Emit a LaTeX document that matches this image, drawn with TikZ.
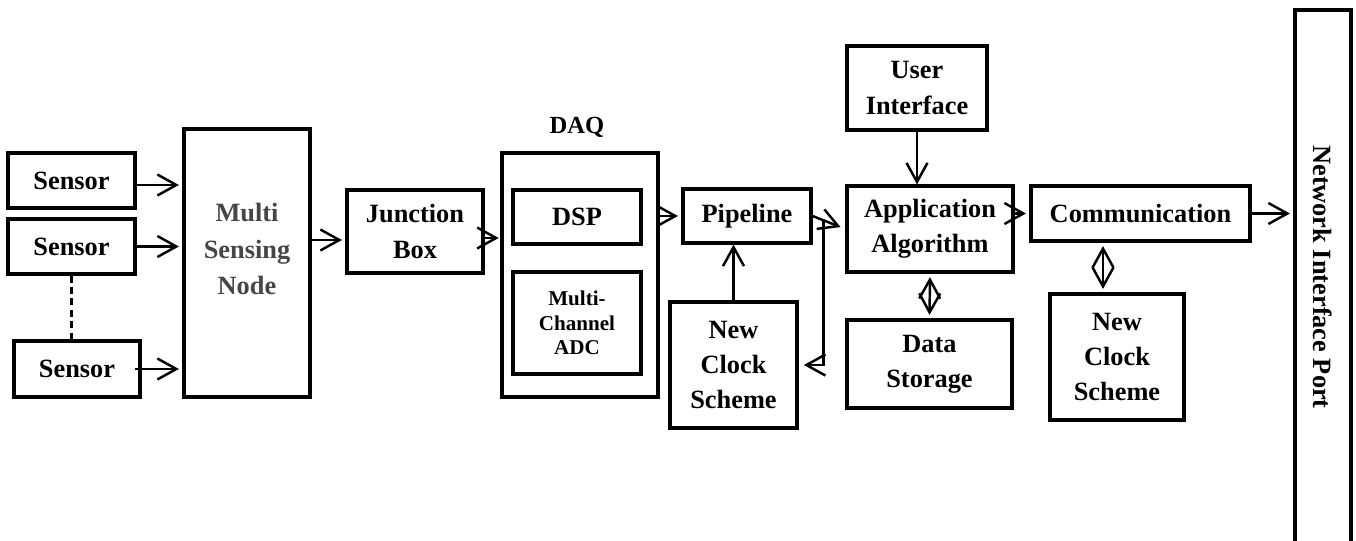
\documentclass[tikz,border=0pt]{standalone}
\usepackage{fontspec}
\setmainfont{Liberation Serif}
\usetikzlibrary{arrows.meta,calc,positioning}
\definecolor{nodegray}{RGB}{70,70,70}

\begin{document}
\begin{tikzpicture}[x=0.02cm, y=-0.02cm,
  blk/.style={draw, line width=1.8pt, align=center, inner sep=0pt,
    font=\fontsize{15}{20}\selectfont\bfseries},
  arr/.style={-{Straight Barb[length=3.8mm, width=4.2mm]}, line width=1.4pt},
  darr/.style={{Straight Barb[length=3.8mm, width=4.2mm]}-{Straight Barb[length=3.8mm, width=4.2mm]}, line width=1.4pt}]
  \useasboundingbox (0,0) rectangle (1356,541);

  % Sensors
  \node[blk, minimum width=2.54cm, minimum height=1.1cm] (s1) at (71.5,180.5) {Sensor};
  \node[blk, minimum width=2.54cm, minimum height=1.1cm] (s2) at (71.5,246.5) {Sensor};
  \node[blk, minimum width=2.52cm, minimum height=1.12cm] (s3) at (77,369) {Sensor};
  \draw[dash pattern=on 4pt off 2.5pt, line width=1.2pt] (s2.south) -- (s2.south |- s3.north);

  % Multi Sensing Node
  \node[blk, minimum width=2.52cm, minimum height=5.36cm] (msn) at (247,263) {};
  \node[font=\fontsize{15}{21}\selectfont\bfseries, text=nodegray, align=center] (msnlab) at (247,249) {Multi\\Sensing\\Node};
  \draw[arr, shorten >=2pt] (s1.east |- 0,185) -- (msn.west |- 0,185);
  \draw[arr, shorten >=2pt] (s2.east) -- (s2.east -| msn.west);
  \draw[arr, shorten >=2pt] ([xshift=-0.14cm]s3.east) -- (s3.east -| msn.west);

  % Junction Box
  \node[blk, minimum width=2.72cm, minimum height=1.66cm] (jb) at (415,231.5) {Junction\\Box};
  \draw[arr, shorten >=2pt] (msn.east |- 0,240) -- (jb.west |- 0,240);

  % DAQ
  \node[blk, minimum width=3.12cm, minimum height=4.88cm] (daq) at (580,275) {};
  \node[font=\fontsize{14}{16}\selectfont\bfseries] (daqlab) at (577,127) {DAQ};
  \node[blk, minimum width=2.56cm, minimum height=1.08cm] (dsp) at (577,217) {DSP};
  \node[blk, minimum width=2.56cm, minimum height=2.04cm, font=\fontsize{12}{14}\selectfont\bfseries] (adc) at (577,323) {Multi-\\Channel\\ADC};
  \draw[arr, shorten >=1pt] (jb.east |- 0,238) -- (daq.west |- 0,238);

  % Pipeline and clock
  \node[blk, minimum width=2.56cm, minimum height=1.08cm] (pipe) at (747,216) {Pipeline};
  \node[blk, minimum width=2.54cm, minimum height=2.52cm] (clk1) at (733.5,365) {New\\Clock\\Scheme};
  \draw[arr, shorten >=2pt] (daq.east |- pipe.west) -- (pipe.west);
  \draw[arr] (clk1.north) -- (clk1.north |- pipe.south);

  % Application side
  \node[blk, minimum width=3.32cm, minimum height=1.72cm] (app) at (930,229) {Application\\Algorithm};
  \node[blk, minimum width=3.3cm, minimum height=1.76cm] (store) at (929.5,364) {Data\\Storage};
  \node[blk, minimum width=2.8cm, minimum height=1.68cm] (ui) at (917,88) {User\\Interface};
  \coordinate (tap) at ($(pipe.east)!0.33!(app.west)$);
  \draw[arr, shorten >=3pt] (pipe.east) -- (app.west);
  \draw[arr, shorten >=3pt] (tap) |- (clk1.east);
  \draw[arr] (ui.south) -- (ui.south |- app.north);
  \draw[darr, shorten <=2pt, shorten >=2pt] (app.south) -- (store.north);

  % Communication
  \node[blk, minimum width=4.38cm, minimum height=1.1cm] (comm) at (1140.5,213.5) {Communication};
  \node[blk, minimum width=2.68cm, minimum height=2.52cm] (clk2) at (1117,357) {New\\Clock\\Scheme};
  \draw[arr, shorten >=2pt] ([xshift=-0.06cm]app.east |- comm.west) -- (comm.west);
  \draw[darr, shorten <=2pt, shorten >=2pt] ([xshift=-0.28cm]comm.south -| clk2.north) -- ([xshift=-0.28cm]clk2.north);

  % Network Interface Port
  \node[blk, minimum width=1.12cm, minimum height=10.8cm] (nip) at (1323,280) {};
  \node[rotate=-90, font=\fontsize{15}{18}\selectfont\bfseries] (niplab) at (1323,277) {Network Interface Port};
  \draw[arr, shorten >=2pt] (comm.east) -- (comm.east -| nip.west);
\end{tikzpicture}
\end{document}
